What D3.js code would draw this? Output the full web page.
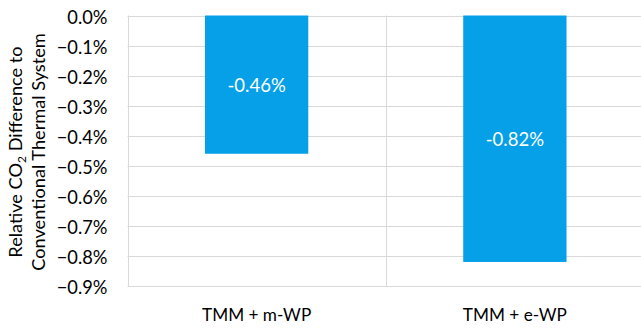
<!DOCTYPE html>
<html><head><meta charset="utf-8">
<script src="https://cdn.jsdelivr.net/npm/d3@7"></script>
<style>body{margin:0;background:#fff}svg{display:block}text{font-family:Lato,"Open Sans",sans-serif}</style>
</head><body><svg id="c" width="641" height="328"></svg>
<script>
const categories = ["TMM + m-WP", "TMM + e-WP"];
const values = [-0.46, -0.82];
const valueLabels = ["-0.46%", "-0.82%"];
const yTicks = [0, -0.1, -0.2, -0.3, -0.4, -0.5, -0.6, -0.7, -0.8, -0.9];

const svg = d3.select("#c");
const m = {l:127.5, r:644, t:15.5, b:286};
const x = d3.scaleBand().domain(categories).range([m.l, m.r]).paddingInner(0).paddingOuter(0);
const y = d3.scaleLinear().domain([0, -0.9]).range([m.t, m.b]);
const barW = x.bandwidth() * 0.4;
const FF = "Lato,'Open Sans',sans-serif";

// gridlines
svg.append("g").selectAll("line").data(yTicks).join("line")
  .attr("x1", m.l).attr("x2", m.r).attr("y1", d => Math.round(y(d)) + 0.5).attr("y2", d => Math.round(y(d)) + 0.5)
  .attr("stroke", "#d9d9d9").attr("stroke-width", 1);
// vertical lines
svg.append("g").selectAll("line").data([m.l, m.l + x.bandwidth()]).join("line")
  .attr("x1", d => Math.round(d) + 0.5).attr("x2", d => Math.round(d) + 0.5)
  .attr("y1", m.t).attr("y2", m.b).attr("stroke", "#d9d9d9");

// bars
svg.append("g").selectAll("rect").data(values).join("rect")
  .attr("x", (d, i) => x(categories[i]) + (x.bandwidth() - barW) / 2)
  .attr("width", barW)
  .attr("y", y(0)).attr("height", d => y(d) - y(0))
  .attr("fill", "#05a0e8");

// bar labels
svg.append("g").selectAll("text").data(values).join("text")
  .attr("x", (d, i) => x(categories[i]) + x.bandwidth() / 2)
  .attr("y", d => (y(0) + y(d)) / 2)
  .attr("dy", "0.42em").attr("text-anchor", "middle")
  .attr("fill", "#fff").attr("font-size", 18.5)
  .text((d, i) => valueLabels[i]);

// y axis labels
const yAxis = d3.axisLeft(y).tickValues(yTicks).tickSize(0).tickPadding(0)
  .tickFormat(d => (d === 0 ? "0.0" : d3.format(".1f")(d)) + "%");
const ga = svg.append("g").attr("transform", `translate(${107.5},0)`).call(yAxis);
ga.select(".domain").remove();
ga.selectAll("text").attr("font-size", 18.3).attr("fill", "#000").attr("font-family", FF).attr("dy", "0.42em");

// x axis labels
const xAxis = d3.axisBottom(x).tickSize(0).tickPadding(0);
const gx = svg.append("g").attr("transform", `translate(0,${321})`).call(xAxis);
gx.select(".domain").remove();
gx.selectAll("text").attr("font-size", 17.2).attr("fill", "#000").attr("font-family", FF).attr("dy", 0);

// axis title
const t = svg.append("text").attr("transform", "translate(22,152) rotate(-90)")
  .attr("text-anchor", "middle").attr("font-size", 18.2).attr("fill", "#000");
t.append("tspan").attr("x", 0).attr("dy", 0).text("Relative CO");
t.append("tspan").attr("font-size", 12).attr("dy", 4).text("2");
t.append("tspan").attr("dy", -4).text(" Difference to");
t.append("tspan").attr("x", 0).attr("dy", 23).text("Conventional Thermal System");
</script></body></html>
